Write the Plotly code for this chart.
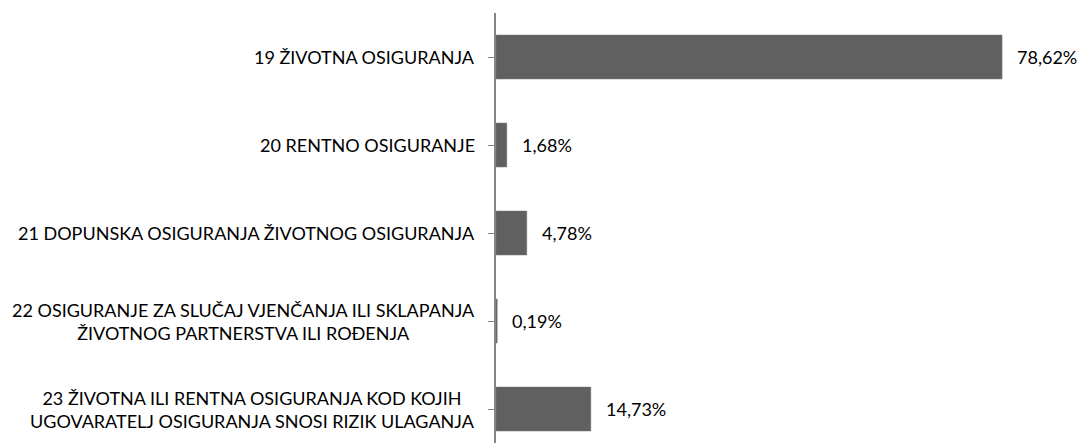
import plotly.graph_objects as go

categories = [
    "19 ŽIVOTNA OSIGURANJA",
    "20 RENTNO OSIGURANJE",
    "21 DOPUNSKA OSIGURANJA ŽIVOTNOG OSIGURANJA",
    "22 OSIGURANJE ZA SLUČAJ VJENČANJA ILI SKLAPANJA<br>ŽIVOTNOG PARTNERSTVA ILI ROĐENJA",
    "23 ŽIVOTNA ILI RENTNA OSIGURANJA KOD KOJIH<br>UGOVARATELJ OSIGURANJA SNOSI RIZIK ULAGANJA",
]
values = [78.62, 1.68, 4.78, 0.19, 14.73]
value_labels = ["78,62%", "1,68%", "4,78%", "0,19%", "14,73%"]

FONT = "Lato"

fig = go.Figure(go.Bar(
    x=values,
    y=list(range(len(categories))),
    orientation="h",
    width=0.5,
    marker=dict(color="#606060", line=dict(color="#7a7a7a", width=0.5)),
    hoverinfo="skip",
))

annotations = []
for i, (cat, v, lab) in enumerate(zip(categories, values, value_labels)):
    annotations.append(dict(
        x=0, xref="paper", y=i, yref="y", text=cat, showarrow=False,
        xanchor="right", yanchor="middle", align="center", xshift=-19,
        font=dict(family=FONT, size=18, color="#000000"),
    ))
    annotations.append(dict(
        x=v, xref="x", y=i, yref="y", text=lab, showarrow=False,
        xanchor="left", yanchor="middle", xshift=13,
        font=dict(family=FONT, size=18, color="#000000"),
    ))

fig.update_layout(
    width=1085, height=443,
    margin=dict(l=496, r=0, t=13, b=0),
    paper_bgcolor="white", plot_bgcolor="white",
    showlegend=False,
    annotations=annotations,
    xaxis=dict(range=[0, 91.5], visible=False, fixedrange=True),
    yaxis=dict(
        range=[4.386, -0.5],
        tickmode="array", tickvals=list(range(len(categories))),
        ticktext=[""] * len(categories),
        showticklabels=False,
        tickson="boundaries", ticks="outside", ticklen=6, tickcolor="#868686", tickwidth=1,
        showline=True, linecolor="#868686", linewidth=2,
        showgrid=False, zeroline=False,
    ),
)

fig.write_html("out.html")
